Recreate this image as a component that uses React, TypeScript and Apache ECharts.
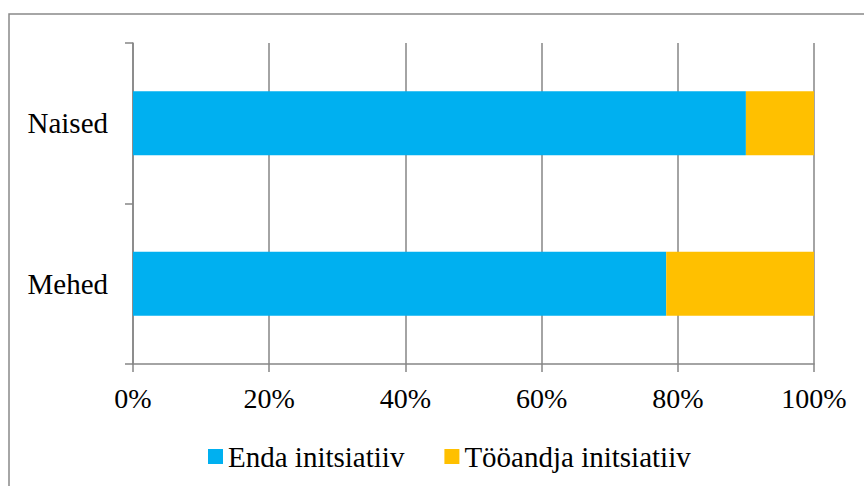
import React, { useEffect, useRef } from "react";
import * as echarts from "echarts";

const categories = ["Mehed", "Naised"];
const seriesNames = ["Enda initsiatiiv", "Tööandja initsiatiiv"];
const endaValues = [78.3, 90.0];
const tooandjaValues = [21.7, 10.0];
const xTicks = [0, 20, 40, 60, 80, 100];

const FONT = "Liberation Serif";
const GRAY = "#868686";

export default function App() {
  const ref = useRef<HTMLDivElement>(null);
  useEffect(() => {
    document.body.style.margin = "0";
    if (!ref.current) return;
    const chart = echarts.init(ref.current, null, { renderer: "svg" });
    chart.setOption({
      animation: false,
      backgroundColor: "#ffffff",
      textStyle: { fontFamily: FONT },
      graphic: [
        {
          type: "rect",
          shape: { x: 9, y: 14, width: 900, height: 500 },
          style: { fill: "none", stroke: "#898989", lineWidth: 1.5 },
          silent: true,
          z: -1,
        },
      ],
      grid: { left: 133, right: 50, top: 43, bottom: 122, containLabel: false },
      legend: {
        left: 203,
        top: 437,
        itemWidth: 15,
        itemHeight: 15,
        itemGap: 40,
        icon: "rect",
        data: seriesNames,
        textStyle: { fontFamily: FONT, fontSize: 29, color: "#000" },
      },
      xAxis: {
        type: "value",
        min: xTicks[0],
        max: xTicks[xTicks.length - 1],
        interval: 20,
        axisLine: { show: true, lineStyle: { color: GRAY, width: 1.5 } },
        axisTick: { show: true, length: 8, lineStyle: { color: GRAY, width: 1.5 } },
        splitLine: { show: true, lineStyle: { color: GRAY, width: 1.5 } },
        axisLabel: {
          formatter: (v: number) => `${v}%`,
          fontFamily: FONT,
          fontSize: 28,
          color: "#000",
          margin: 20,
        },
      },
      yAxis: {
        type: "category",
        data: categories,
        axisLine: { show: true, lineStyle: { color: GRAY, width: 1.5 } },
        axisTick: { show: true, length: 8, lineStyle: { color: GRAY, width: 1.5 } },
        axisLabel: { fontFamily: FONT, fontSize: 29, color: "#000", margin: 25 },
      },
      series: [
        {
          name: seriesNames[0],
          type: "bar",
          stack: "total",
          barWidth: "40%",
          data: endaValues,
          itemStyle: { color: "#00B0F0" },
        },
        {
          name: seriesNames[1],
          type: "bar",
          stack: "total",
          barWidth: "40%",
          data: tooandjaValues,
          itemStyle: { color: "#FFC000" },
        },
      ],
    });
    return () => chart.dispose();
  }, []);
  return <div ref={ref} style={{ width: 864, height: 486 }} />;
}
